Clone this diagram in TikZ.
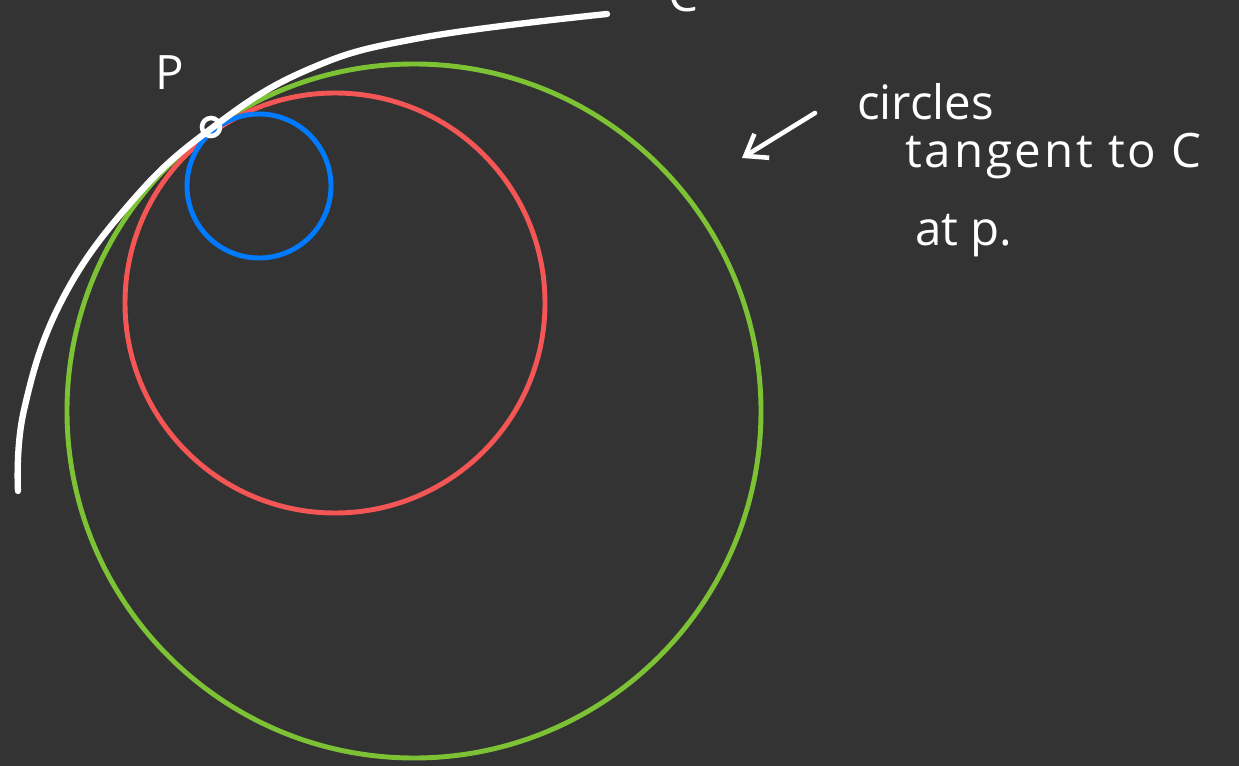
\documentclass[tikz,border=0pt]{standalone}
\usepackage{fontspec}
\setmainfont{Open Sans}
\usetikzlibrary{arrows.meta}
\definecolor{bg}{RGB}{51,51,51}
\definecolor{cblue}{RGB}{0,122,255}
\definecolor{cred}{RGB}{244,85,85}
\definecolor{cgreen}{RGB}{125,194,52}
\tikzset{
  ring/.style={draw=#1, line width=2.8pt, circle, inner sep=0pt},
  hand/.style={text=white, font=\fontsize{27}{27}\selectfont, inner sep=0pt, anchor=base west},
  curveC/.style={draw=white, line width=3.6pt, line cap=round, line join=round},
}
\begin{document}
\begin{tikzpicture}[x=0.02cm,y=-0.02cm]
\fill[bg] (0,0) rectangle (1239,766);
\useasboundingbox (0,0) rectangle (1239,766);
% circles
\node[ring=cgreen, minimum size=694*0.02cm] (green) at (414,411) {};
\node[ring=cred, minimum size=420*0.02cm] (red) at (335,303) {};
\node[ring=cblue, minimum size=144*0.02cm] (blue) at (259,186) {};
% curve C
\draw[curveC] plot[smooth, tension=0.7] coordinates {(18,491) (24,410) (62,300) (133,200) (212,128) (307,70) (420,38) (607,14)};
% point P
\node[draw=white, line width=2.6pt, circle, inner sep=0pt, minimum size=18*0.02cm] (P) at (211,127) {};
\node[hand] (Plabel) at (155,90) {P};
\node[hand] (Clabel) at (668,12) {C};
% annotation
\node[hand] (t1) at (857,120) {circles};
\node[hand, font=\fontsize{27}{27}\selectfont\addfontfeatures{LetterSpace=6}] (t2) at (905,168) {tangent to C};
\node[hand] (t3) at (915,246) {at p.};
\coordinate (as) at (815,113);
\coordinate (ae) at (742,158);
\draw[white, line width=2.6pt, line cap=round, -{Straight Barb[length=11pt,width=16pt,line width=2.6pt]}] (as) -- (ae);
\end{tikzpicture}
\end{document}
